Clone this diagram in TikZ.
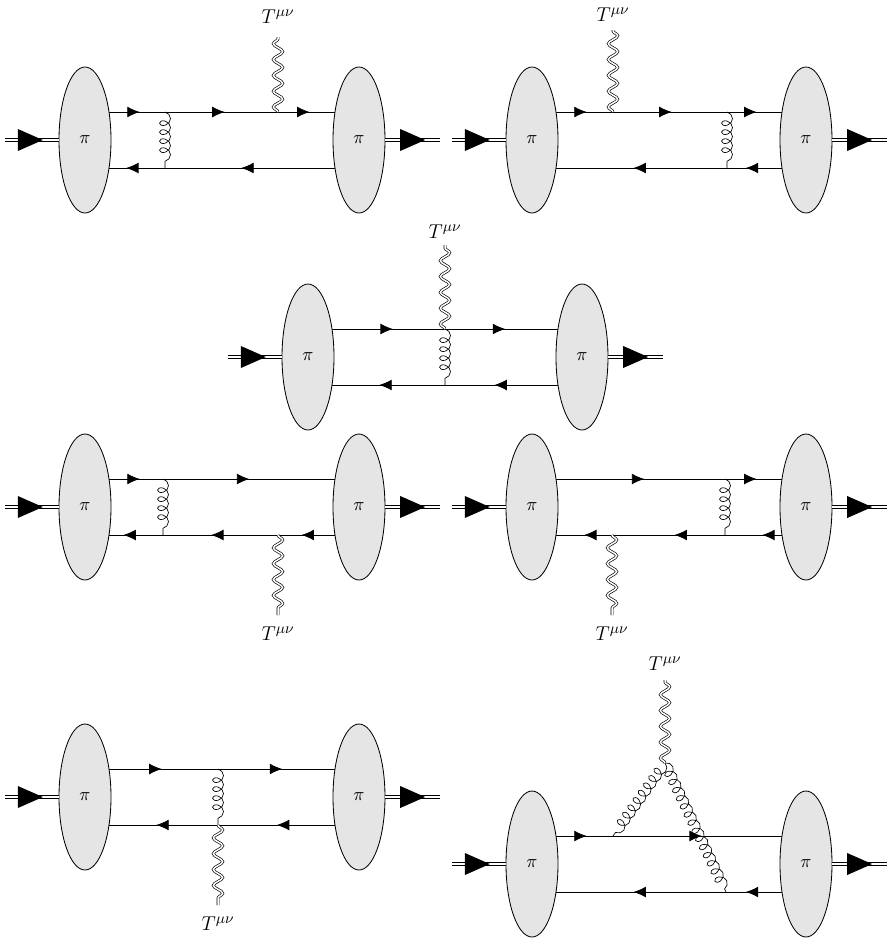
\documentclass[tikz,border=0pt]{standalone}
\usetikzlibrary{decorations.markings,decorations.pathmorphing,arrows.meta,shapes.geometric}
\begin{document}
\begin{tikzpicture}[x=0.6pt,y=-0.6pt,font=\fontsize{13}{15}\selectfont,
 q/.style={line width=0.5pt},
 ar/.style={postaction={decorate,decoration={markings,mark=at position #1 with {\arrow{Latex[length=7.5pt,width=6.5pt]}}}}},
 glu/.style={line width=0.4pt,decorate,decoration={coil,amplitude=3.3pt,segment length=5.4pt,aspect=0.8}},
 grav/.style={line width=0.4pt,double,double distance=0.9pt,decorate,decoration={snake,amplitude=2.8pt,segment length=9.5pt}},
 blob/.style={ellipse,draw,line width=0.5pt,fill=black!10,minimum width=31.2pt,minimum height=87.6pt,inner sep=0pt,font=\fontsize{11}{13}\selectfont},
 ext/.style={line width=0.8pt,double,double distance=1.3pt},
 extar/.style={postaction={decorate,decoration={markings,mark=at position #1 with {\fill[black] (0,6.6pt) -- (15pt,0) -- (0,-6.6pt) -- cycle;}}}},
 lab/.style={inner sep=0pt}]
\useasboundingbox (0,0) rectangle (894,945);
\newcommand\pipair[1]{%
 \coordinate (#1a) at (-80,0); \coordinate (#1b) at (355,0);
 \node[blob] (#1L) at (0,0) {$\pi$};
 \node[blob] (#1R) at (274,0) {$\pi$};
 \draw[ext,extar=0.24] (#1a) -- (#1L);
 \draw[ext,extar=0.27] (#1R) -- (#1b);}
\newcommand\corners[1]{%
 \coordinate (#1tl) at (0,-28); \coordinate (#1tr) at (274,-28);
 \coordinate (#1bl) at (0,28); \coordinate (#1br) at (274,28);}
% Diagram 1
\begin{scope}[shift={(85,140)}]
 \corners{A}
 \coordinate (Ag1) at (80,-28); \coordinate (Ag2) at (80,28);
 \coordinate (Av) at (193,-28); \coordinate (Ae) at (193,-103);
 \draw[q,ar=.20,ar=.51,ar=.82] (Atl) -- (Atr);
 \draw[q,ar=.43,ar=.85] (Abr) -- (Abl);
 \draw[glu] (Ag1) -- (Ag2);
 \draw[grav] (Av) -- (Ae);
 \node[lab] (AT) at (193,-123) {$T^{\mu\nu}$};
 \pipair{A}
\end{scope}
% Diagram 2
\begin{scope}[shift={(532,140)}]
 \corners{B}
 \coordinate (Bg1) at (195,-28); \coordinate (Bg2) at (195,28);
 \coordinate (Bv) at (81,-28); \coordinate (Be) at (81,-110);
 \draw[q,ar=.20,ar=.51,ar=.82] (Btl) -- (Btr);
 \draw[q,ar=.22,ar=.63] (Bbr) -- (Bbl);
 \draw[glu] (Bg1) -- (Bg2);
 \draw[grav] (Bv) -- (Be);
 \node[lab] (BT) at (81,-125) {$T^{\mu\nu}$};
 \pipair{B}
\end{scope}
% Diagram 3
\begin{scope}[shift={(308,357)}]
 \corners{C}
 \coordinate (Cg1) at (137,-28); \coordinate (Cg2) at (137,28);
 \coordinate (Ce) at (137,-112);
 \draw[q,ar=.31,ar=.72] (Ctl) -- (Ctr);
 \draw[q,ar=.32,ar=.74] (Cbr) -- (Cbl);
 \draw[glu] (Cg1) -- (Cg2);
 \draw[grav] (Cg1) -- (Ce);
 \node[lab] (CT) at (137,-125) {$T^{\mu\nu}$};
 \pipair{C}
\end{scope}
% Diagram 4
\begin{scope}[shift={(85,507)}]
 \corners{D}
 \coordinate (Dg1) at (78,-28); \coordinate (Dg2) at (78,28);
 \coordinate (Dv) at (193,28); \coordinate (De) at (193,108);
 \draw[q,ar=.20,ar=.60] (Dtl) -- (Dtr);
 \draw[q,ar=.21,ar=.54,ar=.86] (Dbr) -- (Dbl);
 \draw[glu] (Dg1) -- (Dg2);
 \draw[grav] (Dv) -- (De);
 \node[lab] (DT) at (193,127) {$T^{\mu\nu}$};
 \pipair{D}
\end{scope}
% Diagram 5
\begin{scope}[shift={(532,507)}]
 \corners{E}
 \coordinate (Eg1) at (193,-28); \coordinate (Eg2) at (193,28);
 \coordinate (Ev) at (80,28); \coordinate (Ee) at (80,108);
 \draw[q,ar=.41,ar=.82] (Etl) -- (Etr);
 \draw[q,ar=.16,ar=.48,ar=.81] (Ebr) -- (Ebl);
 \draw[glu] (Eg1) -- (Eg2);
 \draw[grav] (Ev) -- (Ee);
 \node[lab] (ET) at (80,127) {$T^{\mu\nu}$};
 \pipair{E}
\end{scope}
% Diagram 6
\begin{scope}[shift={(85,797)}]
 \corners{F}
 \coordinate (Fg1) at (133,-28); \coordinate (Fg2) at (133,28);
 \coordinate (Fe) at (133,108);
 \draw[q,ar=.28,ar=.72] (Ftl) -- (Ftr);
 \draw[q,ar=.30,ar=.74] (Fbr) -- (Fbl);
 \draw[glu] (Fg1) -- (Fg2);
 \draw[grav] (Fg2) -- (Fe);
 \node[lab] (FT) at (133,127) {$T^{\mu\nu}$};
 \pipair{F}
\end{scope}
% Diagram 7
\begin{scope}[shift={(532,864)}]
 \corners{G}
 \coordinate (Gv) at (133,-101); \coordinate (Ge) at (133,-184);
 \coordinate (Gg1) at (81,-28); \coordinate (Gg2) at (194,28);
 \draw[q,ar=.20,ar=.62] (Gtl) -- (Gtr);
 \draw[q,ar=.22,ar=.63] (Gbr) -- (Gbl);
 \draw[glu] (Gv) -- (Gg1);
 \draw[glu] (Gv) -- (Gg2);
 \draw[grav] (Gv) -- (Ge);
 \node[lab] (GT) at (133,-200) {$T^{\mu\nu}$};
 \pipair{G}
\end{scope}
\end{tikzpicture}
\end{document}
